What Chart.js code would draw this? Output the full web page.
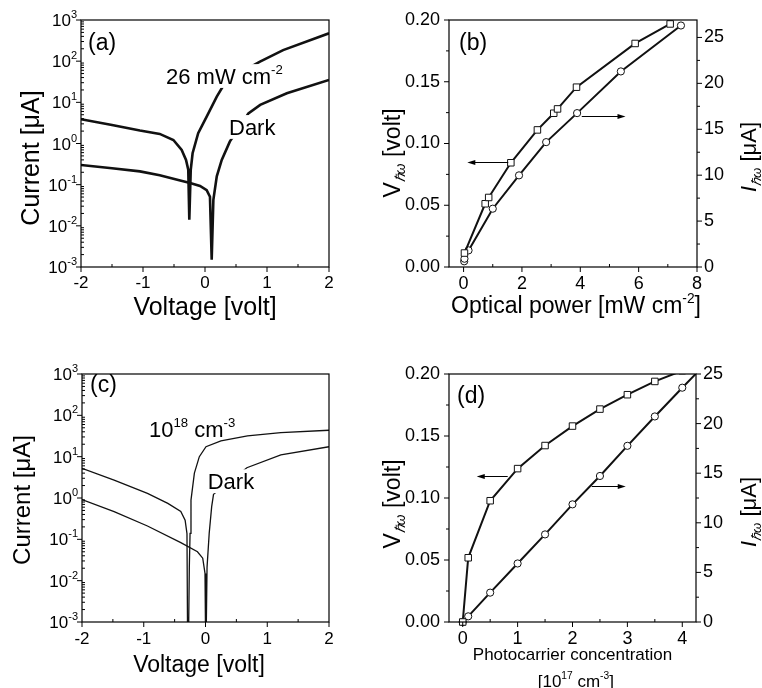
<!DOCTYPE html>
<html><head><meta charset="utf-8">
<script src="https://cdn.jsdelivr.net/npm/chart.js@4.4.1/dist/chart.umd.min.js"></script>
<style>
html,body{margin:0;padding:0;background:#fff;}
#wrap{position:relative;width:762px;height:688px;overflow:hidden;background:#fff;}
.p{position:absolute;width:381px;height:344px;}
canvas{display:block;}
</style></head><body>
<div id="wrap">
<div class="p" style="left:0;top:0"><canvas id="ca" width="381" height="344"></canvas></div>
<div class="p" style="left:381px;top:0"><canvas id="cb" width="381" height="344"></canvas></div>
<div class="p" style="left:0;top:344px"><canvas id="cc" width="381" height="344"></canvas></div>
<div class="p" style="left:381px;top:344px"><canvas id="cd" width="381" height="344"></canvas></div>
</div>
<script>
// ---------- DATA ----------
// (a) measured I-V, 26 mW cm^-2 and dark
const aLightVolt = [-2, -1.5, -1.05, -0.73, -0.51, -0.376, -0.306, -0.27, -0.253, -0.23, -0.2, -0.11, 0.027, 0.19, 0.35, 0.887, 1.26, 2.0];
const aLightCurr = [3.9, 2.8, 2.06, 1.71, 1.22, 0.70, 0.40, 0.23, 0.014, 0.23, 0.58, 1.78, 4.5, 13.8, 34.7, 98, 186, 475];
const aDarkVolt  = [-2, -1.5, -1.05, -0.73, -0.4, -0.24, -0.08, 0.027, 0.08, 0.108, 0.135, 0.19, 0.27, 0.4, 0.7, 0.89, 1.32, 2.0];
const aDarkCurr  = [0.3, 0.25, 0.21, 0.17, 0.126, 0.11, 0.093, 0.074, 0.051, 0.0015, 0.043, 0.16, 0.40, 1.11, 5.4, 8.7, 16.6, 35];
// (c) simulated I-V, 10^18 cm^-3 and dark
const cLightVolt = [-2, -1.48, -0.94, -0.61, -0.40, -0.33, -0.30, -0.288, -0.279, -0.262, -0.25, -0.235, -0.18, -0.10, 0.008, 0.25, 0.68, 1.22, 2.0];
const cLightCurr = [5.2, 2.7, 1.29, 0.74, 0.47, 0.29, 0.138, 0.0001, 0.0001, 0.021, 0.14, 0.89, 4.0, 10, 17.4, 24, 31.7, 38, 43.6];
const cDarkVolt  = [-2, -1.48, -0.94, -0.40, -0.13, -0.045, -0.008, 0.002, 0.008, 0.025, 0.06, 0.10, 0.13, 0.67, 1.22, 2.0];
const cDarkCurr  = [0.92, 0.47, 0.21, 0.083, 0.05, 0.035, 0.015, 0.0001, 0.0001, 0.021, 0.14, 0.62, 1.23, 5.4, 11, 17.4];
// (b) V and I vs optical power
const bPowerV = [0.03, 0.74, 0.86, 1.62, 2.53, 3.09, 3.22, 3.87, 5.88, 7.08];
const bVtho   = [0.0113, 0.0512, 0.0563, 0.0844, 0.111, 0.1245, 0.128, 0.1456, 0.181, 0.1968];
const bPowerI = [0.02, 0.03, 0.17, 1.0, 1.9, 2.83, 3.89, 5.39, 7.45];
const bItho   = [0.62, 0.9, 1.81, 6.35, 9.98, 13.6, 16.76, 21.3, 26.3];
// (d) V and I vs photocarrier concentration
const dConcV = [0, 0.1, 0.5, 1, 1.5, 2, 2.5, 3, 3.5, 4];
const dVtho  = [0, 0.0518, 0.0978, 0.1237, 0.1423, 0.158, 0.1717, 0.1833, 0.194, 0.2027];
const dConcI = [0, 0.1, 0.5, 1, 1.5, 2, 2.5, 3, 3.5, 4, 4.5];
const dItho  = [0, 0.57, 2.96, 5.9, 8.83, 11.86, 14.72, 17.76, 20.72, 23.62, 26.45];
// tick values
const voltTicks = [-2, -1, 0, 1, 2];
const voltMinor = [-1.5, -0.5, 0.5, 1.5];
const logExponents = [-3, -2, -1, 0, 1, 2, 3];
const bPowerTicks = [0, 2, 4, 6, 8];
const bPowerMinor = [1, 3, 5, 7];
const vthoTicks = [0, 0.05, 0.10, 0.15, 0.20];
const vthoMinor = [0.025, 0.075, 0.125, 0.175];
const ithoTicks = [0, 5, 10, 15, 20, 25];
const ithoMinor = [2.5, 7.5, 12.5, 17.5, 22.5];
const dConcTicks = [0, 1, 2, 3, 4];
const dConcMinor = [0.5, 1.5, 2.5, 3.5];

// ---------- HELPERS ----------
const FONT = "'Liberation Sans', Arial, Helvetica, sans-serif";
Chart.defaults.font.family = FONT;
Chart.defaults.color = '#000';

const logMajor = logExponents.map(e => Math.pow(10, e));
const logMinor = [];
logExponents.slice(0, -1).forEach(e => { for (let k = 2; k <= 9; k++) logMinor.push(k * Math.pow(10, e)); });

function pts(xs, ys) { return xs.map((x, i) => ({ x: x, y: ys[i] })); }

function layoutRich(ctx, segs, size) {
  let total = 0;
  const parts = segs.map(([t, k]) => {
    const small = (k === 'sup' || k === 'sub' || k === 'isub');
    const fs = small ? size * 0.6 : size;
    const font = ((k === 'i' || k === 'isub') ? 'italic ' : '') + fs.toFixed(1) + 'px ' + FONT;
    ctx.font = font;
    const w = ctx.measureText(t).width;
    total += w;
    const dy = k === 'sup' ? -size * 0.45 : ((k === 'sub' || k === 'isub') ? size * 0.22 : 0);
    return { t, font, w, dy };
  });
  return { parts, total };
}
function drawRich(ctx, segs, x, y, size, align, rot) {
  const L = layoutRich(ctx, segs, size);
  ctx.save();
  ctx.translate(x, y);
  if (rot) ctx.rotate(rot);
  ctx.textBaseline = 'alphabetic';
  ctx.textAlign = 'left';
  ctx.fillStyle = '#000';
  let cx = align === 'center' ? -L.total / 2 : (align === 'right' ? -L.total : 0);
  L.parts.forEach(p => { ctx.font = p.font; ctx.fillText(p.t, cx, p.dy); cx += p.w; });
  ctx.restore();
  return L.total;
}

function decor(cfg) {
  return {
    id: 'decor',
    afterDatasetsDraw(chart) {
      const ctx = chart.ctx;
      (cfg.notes || []).forEach(n => {
        const px = chart.scales.x.getPixelForValue(n.x);
        const py = chart.scales[n.axis || 'y'].getPixelForValue(n.y);
        if (n.box) {
          const L = layoutRich(ctx, n.segs, n.size);
          ctx.save(); ctx.fillStyle = '#fff';
          ctx.fillRect(px - 3, py - n.size * 0.9, L.total + 6, n.size * 0.9 + 4);
          ctx.restore();
        }
        drawRich(ctx, n.segs, px, py, n.size, 'left', 0);
      });
      (cfg.arrows || []).forEach(a => {
        const x1 = chart.scales.x.getPixelForValue(a.from);
        const x2 = chart.scales.x.getPixelForValue(a.to);
        const y = Math.round(chart.scales.y.getPixelForValue(a.y)) + 0.5;
        const dir = Math.sign(x2 - x1);
        ctx.save();
        ctx.strokeStyle = '#000'; ctx.fillStyle = '#000'; ctx.lineWidth = 1;
        ctx.beginPath(); ctx.moveTo(x1, y); ctx.lineTo(x2 - dir * 6, y); ctx.stroke();
        ctx.beginPath(); ctx.moveTo(x2, y); ctx.lineTo(x2 - dir * 8, y - 2.5); ctx.lineTo(x2 - dir * 8, y + 2.5); ctx.closePath(); ctx.fill();
        ctx.restore();
      });
    },
    afterDraw(chart) {
      const ctx = chart.ctx;
      const a = chart.chartArea;
      ctx.save();
      ctx.strokeStyle = '#000';
      ctx.lineWidth = 1.2;
      ctx.strokeRect(a.left, a.top, a.right - a.left, a.bottom - a.top);
      ctx.lineWidth = 1;
      (cfg.ticks || []).forEach(t => {
        const s = chart.scales[t.scale];
        const draw = (vals, len, out) => {
          vals.forEach(v => {
            const p = s.getPixelForValue(v);
            ctx.beginPath();
            if (t.side === 'bottom') { ctx.moveTo(p, a.bottom); ctx.lineTo(p, a.bottom + (out ? len : -len)); }
            else if (t.side === 'left') { ctx.moveTo(a.left, p); ctx.lineTo(a.left + (out ? -len : len), p); }
            else if (t.side === 'right') { ctx.moveTo(a.right, p); ctx.lineTo(a.right + (out ? len : -len), p); }
            ctx.stroke();
          });
        };
        draw(t.major, 5, t.majOut);
        draw(t.minor, 3, t.minOut);
      });
      ctx.restore();
      if (cfg.logLabels) {
        const s = chart.scales.y;
        ctx.save();
        ctx.fillStyle = '#000';
        ctx.textBaseline = 'alphabetic';
        logExponents.forEach(e => {
          const y = s.getPixelForValue(Math.pow(10, e));
          const ex = e < 0 ? '-' + Math.abs(e) : String(e);
          ctx.font = '17px ' + FONT; const w10 = ctx.measureText('10').width;
          ctx.font = '11px ' + FONT; const we = ctx.measureText(ex).width;
          const x0 = a.left - 4 - w10 - we;
          ctx.font = '17px ' + FONT; ctx.fillText('10', x0, y + 6);
          ctx.font = '11px ' + FONT; ctx.fillText(ex, x0 + w10, y - 2);
        });
        ctx.restore();
      }
      (cfg.titles || []).forEach(t => drawRich(ctx, t.segs, t.x, t.y, t.size, 'center', t.rot || 0));
    }
  };
}

const baseOpts = (pad) => ({
  responsive: false, animation: false, events: [],
  layout: { padding: pad },
  plugins: { legend: { display: false }, tooltip: { enabled: false } }
});
const hideGrid = { display: false, drawTicks: false };

function makeLog(id, cfg) {
  const o = baseOpts(cfg.pad);
  o.scales = {
    x: { type: 'linear', min: -2, max: 2,
      afterBuildTicks: s => { s.ticks = voltTicks.map(v => ({ value: v })); },
      afterFit: s => { s.height = 40; },
      grid: hideGrid, border: { display: false },
      ticks: { font: { size: 17, lineHeight: 1 }, padding: cfg.xpad, color: '#000', autoSkip: false, maxRotation: 0, callback: v => String(v) } },
    y: { type: 'logarithmic', min: 1e-3, max: 1e3,
      afterFit: s => { s.width = 60; },
      grid: hideGrid, border: { display: false }, ticks: { display: false } }
  };
  return new Chart(document.getElementById(id), {
    type: 'line',
    data: { datasets: [
      { data: pts(cfg.lightV, cfg.lightI), borderColor: '#111', borderWidth: cfg.lw, pointRadius: 0, tension: 0, clip: 0 },
      { data: pts(cfg.darkV, cfg.darkI), borderColor: '#111', borderWidth: cfg.lw, pointRadius: 0, tension: 0, clip: 0 }
    ] },
    options: o,
    plugins: [decor(cfg)]
  });
}

function makeDual(id, cfg) {
  const o = baseOpts(cfg.pad);
  o.scales = {
    x: { type: 'linear', min: cfg.xmin, max: cfg.xmax,
      afterBuildTicks: s => { s.ticks = cfg.xTicks.map(v => ({ value: v })); },
      afterFit: s => { s.height = 40; },
      grid: hideGrid, border: { display: false },
      ticks: { font: { size: 18, lineHeight: 1 }, padding: cfg.xpad, color: '#000', autoSkip: false, maxRotation: 0, callback: v => String(v) } },
    y: { type: 'linear', position: 'left', min: 0, max: 0.2,
      afterBuildTicks: s => { s.ticks = vthoTicks.map(v => ({ value: v })); },
      afterFit: s => { s.width = 50; },
      grid: hideGrid, border: { display: false },
      ticks: { font: { size: 18, lineHeight: 1 }, padding: 9, color: '#000', autoSkip: false, callback: v => v.toFixed(2) } },
    y1: { type: 'linear', position: 'right', min: 0, max: cfg.rmax,
      afterBuildTicks: s => { s.ticks = ithoTicks.map(v => ({ value: v })); },
      afterFit: s => { s.width = 45; },
      grid: hideGrid, border: { display: false },
      ticks: { font: { size: 18, lineHeight: 1 }, padding: 7, color: '#000', autoSkip: false, callback: v => String(v) } }
  };
  return new Chart(document.getElementById(id), {
    type: 'line',
    data: { datasets: [
      { data: pts(cfg.sqX, cfg.sqY), yAxisID: 'y', borderColor: '#111', borderWidth: 2, tension: 0,
        pointStyle: 'rect', pointRadius: 4.6, pointBorderWidth: 1, pointBackgroundColor: '#fff', pointBorderColor: '#111',
        clip: { left: 8, bottom: 8, top: 0, right: 0 } },
      { data: pts(cfg.ciX, cfg.ciY), yAxisID: 'y1', borderColor: '#111', borderWidth: 2, tension: 0,
        pointStyle: 'circle', pointRadius: 3.6, pointBorderWidth: 1, pointBackgroundColor: '#fff', pointBorderColor: '#111',
        clip: { left: 8, bottom: 8, top: 0, right: 0 } }
    ] },
    options: o,
    plugins: [decor(cfg)]
  });
}

const VT = [['V', ''], ['\u210F\u03C9', 'isub'], [' [volt]', '']];
const IT = [['I', 'i'], ['\u210F\u03C9', 'isub'], [' [\u03BCA]', '']];
const R90 = -Math.PI / 2;

// (a)
makeLog('ca', {
  lightV: aLightVolt, lightI: aLightCurr, darkV: aDarkVolt, darkI: aDarkCurr, lw: 2.6,
  pad: { left: 21, right: 52, top: 20, bottom: 37 }, xpad: 7.5, logLabels: true,
  ticks: [
    { scale: 'x', side: 'bottom', major: voltTicks, minor: voltMinor, majOut: true, minOut: false },
    { scale: 'y', side: 'left', major: logMajor, minor: logMinor, majOut: true, minOut: false }
  ],
  notes: [
    { x: -1.887, y: 187, segs: [['(a)', '']], size: 23 },
    { x: -0.629, y: 28, segs: [['26 mW cm', ''], ['-2', 'sup']], size: 22, box: true },
    { x: 0.387, y: 1.62, segs: [['Dark', '']], size: 22, box: true }
  ],
  titles: [
    { segs: [['Voltage [volt]', '']], x: 205, y: 315, size: 25 },
    { segs: [['Current [\u03BCA]', '']], x: 39, y: 158, size: 25, rot: R90 }
  ]
});

// (b)
makeDual('cb', {
  sqX: bPowerV, sqY: bVtho, ciX: bPowerI, ciY: bItho,
  xmin: -0.5, xmax: 8, rmax: 26.9, xTicks: bPowerTicks, xpad: 8,
  pad: { left: 18, right: 20, top: 20, bottom: 37 },
  ticks: [
    { scale: 'x', side: 'bottom', major: bPowerTicks, minor: bPowerMinor, majOut: true, minOut: false },
    { scale: 'y', side: 'left', major: vthoTicks, minor: vthoMinor, majOut: true, minOut: true },
    { scale: 'y1', side: 'right', major: ithoTicks, minor: ithoMinor, majOut: true, minOut: true }
  ],
  notes: [ { x: -0.157, y: 0.1757, segs: [['(b)', '']], size: 23 } ],
  arrows: [ { from: 1.53, to: 0.127, y: 0.0849 }, { from: 4.05, to: 5.55, y: 0.1226 } ],
  titles: [
    { segs: [['Optical power [mW cm', ''], ['-2', 'sup'], [']', '']], x: 195, y: 313, size: 23 },
    { segs: VT, x: 18.5, y: 153, size: 23, rot: R90 },
    { segs: IT, x: 375, y: 157, size: 22, rot: R90 }
  ]
});

// (c)
makeLog('cc', {
  lightV: cLightVolt, lightI: cLightCurr, darkV: cDarkVolt, darkI: cDarkCurr, lw: 1.3,
  pad: { left: 22, right: 52, top: 30, bottom: 26 }, xpad: 8.5, logLabels: true,
  ticks: [
    { scale: 'x', side: 'bottom', major: voltTicks, minor: voltMinor, majOut: true, minOut: false },
    { scale: 'y', side: 'left', major: logMajor, minor: logMinor, majOut: true, minOut: false }
  ],
  notes: [
    { x: -1.87, y: 372, segs: [['(c)', '']], size: 23 },
    { x: -0.915, y: 29.9, segs: [['10', ''], ['18', 'sup'], [' cm', ''], ['-3', 'sup']], size: 22 },
    { x: 0.036, y: 1.64, segs: [['Dark', '']], size: 22, box: true }
  ],
  titles: [
    { segs: [['Voltage [volt]', '']], x: 199, y: 328, size: 23 },
    { segs: [['Current [\u03BCA]', '']], x: 30, y: 156, size: 24, rot: R90 }
  ]
});

// (d)
makeDual('cd', {
  sqX: dConcV, sqY: dVtho, ciX: dConcI, ciY: dItho,
  xmin: -0.25, xmax: 4.25, rmax: 25, xTicks: dConcTicks, xpad: 8,
  pad: { left: 18, right: 21, top: 30, bottom: 26 },
  ticks: [
    { scale: 'x', side: 'bottom', major: dConcTicks, minor: dConcMinor, majOut: true, minOut: false },
    { scale: 'y', side: 'left', major: vthoTicks, minor: vthoMinor, majOut: true, minOut: true },
    { scale: 'y1', side: 'right', major: ithoTicks, minor: ithoMinor, majOut: true, minOut: true }
  ],
  notes: [ { x: -0.104, y: 0.1769, segs: [['(d)', '']], size: 23 } ],
  arrows: [ { from: 0.82, to: 0.255, y: 0.118 }, { from: 2.35, to: 2.97, y: 0.110 } ],
  titles: [
    { segs: [['Photocarrier concentration', '']], x: 191.5, y: 316, size: 17 },
    { segs: [['[10', ''], ['17', 'sup'], [' cm', ''], ['-3', 'sup'], [']', '']], x: 194.8, y: 343, size: 17 },
    { segs: VT, x: 18.5, y: 160, size: 23, rot: R90 },
    { segs: IT, x: 375, y: 168, size: 22, rot: R90 }
  ]
});
</script>
</body></html>
